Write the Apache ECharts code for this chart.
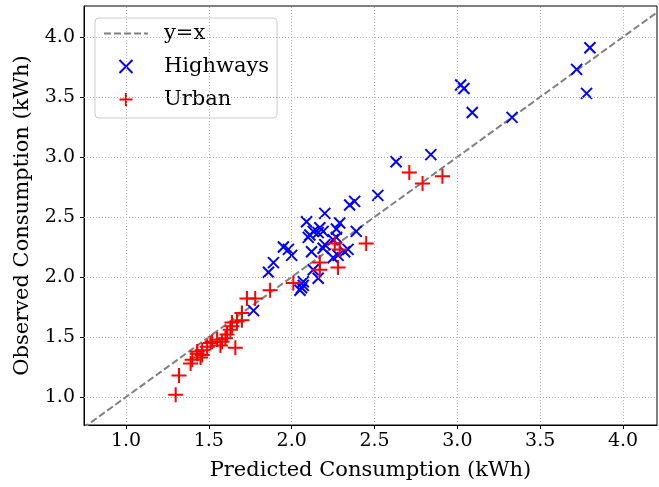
<!DOCTYPE html>
<html>
<head>
<meta charset="utf-8">
<script src="https://cdn.jsdelivr.net/npm/echarts@6/dist/echarts.min.js"></script>
<style>html,body{margin:0;padding:0;background:#fff}#c{width:659px;height:487px}</style>
</head>
<body>
<div id="c"></div>
<script>
const tickValues = [1.0, 1.5, 2.0, 2.5, 3.0, 3.5, 4.0];
const highwaysPred = [3.80,3.72,3.78,3.02,3.04,3.09,3.33,2.84,2.63,2.52,2.38,2.35,2.20,2.09,2.29,2.17,2.13,2.16,2.19,2.27,2.10,2.11,2.39,2.25,2.34,2.28,2.19,2.12,1.95,1.98,2.00,1.89,1.86,2.13,2.16,2.07,2.06,2.07,1.77,2.05,2.25,2.32,2.20,2.27];
const highwaysObs  = [3.91,3.73,3.53,3.60,3.57,3.37,3.33,3.02,2.96,2.68,2.63,2.60,2.53,2.46,2.45,2.41,2.38,2.37,2.38,2.40,2.33,2.35,2.38,2.31,2.23,2.18,2.24,2.21,2.25,2.23,2.18,2.12,2.04,2.06,1.99,1.96,1.91,1.93,1.72,1.89,2.16,2.21,2.27,2.33];
const urbanPred = [1.30,1.32,1.39,1.40,1.45,1.43,1.46,1.46,1.49,1.43,1.51,1.52,1.55,1.58,1.60,1.57,1.61,1.63,1.64,1.64,1.67,1.70,1.66,1.70,1.73,1.78,1.87,2.01,2.17,2.17,2.28,2.29,2.26,2.45,2.71,2.79,2.91];
const urbanObs  = [1.02,1.18,1.28,1.31,1.33,1.36,1.35,1.39,1.42,1.38,1.45,1.46,1.48,1.46,1.49,1.43,1.52,1.56,1.59,1.62,1.63,1.64,1.41,1.70,1.82,1.82,1.89,1.95,2.12,2.06,2.08,2.23,2.28,2.28,2.87,2.78,2.84];
const identityLine = [0.74, 4.30];

const X_MIN = 0.7465, X_MAX = 4.205, Y_MIN = 0.767, Y_MAX = 4.258;
const FONT = 'DejaVu Serif';
const xMark = 'path://M0,0L10,10M10,0L0,10';
const plusMark = 'path://M5,0L5,10M0,5L10,5';

const chart = echarts.init(document.getElementById('c'), null, {renderer: 'canvas'});
const axisCommon = (name, min, max, isY) => ({
  type: 'value', min: min, max: max,
  name: name, nameLocation: 'middle', nameGap: isY ? 51 : 35,
  nameTextStyle: {fontFamily: FONT, fontSize: 21, color: '#000'},
  axisLine: {show: true, onZero: false, lineStyle: {color: '#000', width: 1}},
  axisTick: {show: true, inside: false, length: 4, customValues: tickValues, lineStyle: {color: '#000'}},
  axisLabel: {customValues: tickValues, fontFamily: FONT, fontSize: 19, color: '#000', margin: isY ? 9 : 7,
    formatter: v => v.toFixed(1)},
  splitLine: {show: false}
});
const gridLines = [];
tickValues.forEach(v => { gridLines.push({xAxis: v}); gridLines.push({yAxis: v}); });

chart.setOption({
  animation: false,
  grid: {left: 84, right: 2, top: 6, bottom: 62, show: true, borderColor: '#000', borderWidth: 1, backgroundColor: 'transparent'},
  xAxis: axisCommon('Predicted Consumption (kWh)', X_MIN, X_MAX, false),
  yAxis: axisCommon('Observed Consumption (kWh)', Y_MIN, Y_MAX, true),
  legend: {
    orient: 'vertical', left: 95, top: 18,
    padding: [5, 8, 8, 8], itemGap: 12, itemWidth: 44, itemHeight: 13,
    backgroundColor: 'rgba(255,255,255,0.85)', borderColor: '#cccccc', borderWidth: 1, borderRadius: 4,
    textStyle: {fontFamily: FONT, fontSize: 21, color: '#000', padding: [0,0,0,11]},
    data: [
      {name: 'y=x', itemStyle: {color: 'rgba(0,0,0,0)', borderColor: 'rgba(0,0,0,0)', borderWidth: 0}},
      {name: 'Highways'},
      {name: 'Urban'}
    ]
  },
  series: [
    {
      name: 'y=x', type: 'line', data: identityLine.map(v => [v, v]), symbol: 'none', clip: true,
      lineStyle: {color: '#808080', width: 2, type: [7, 3]}, itemStyle: {color: '#808080'},
      markLine: {silent: true, symbol: 'none', label: {show: false},
        lineStyle: {color: '#b0b0b0', width: 1, type: [1, 2]}, data: gridLines}, z: 3
    },
    {
      name: 'Highways', type: 'scatter', data: highwaysPred.map((x, i) => [x, highwaysObs[i]]),
      symbol: xMark, symbolSize: 11,
      itemStyle: {color: 'rgba(0,0,0,0)', borderColor: '#0000ff', borderWidth: 2, opacity: 1}, z: 4
    },
    {
      name: 'Urban', type: 'scatter', data: urbanPred.map((x, i) => [x, urbanObs[i]]),
      symbol: plusMark, symbolSize: 15,
      itemStyle: {color: 'rgba(0,0,0,0)', borderColor: '#ff0000', borderWidth: 2, opacity: 1}, z: 5
    }
  ]
});
</script>
</body>
</html>
